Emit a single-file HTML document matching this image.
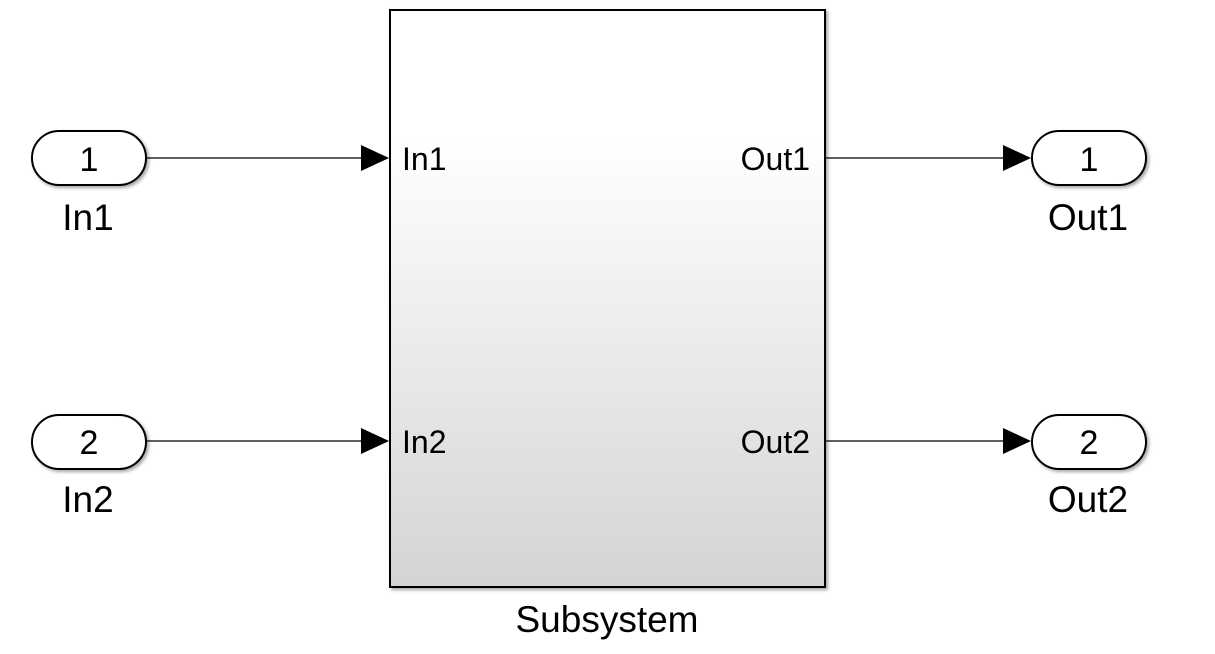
<!DOCTYPE html>
<html><head><meta charset="utf-8"><style>html,body{margin:0;padding:0;background:#fff;}svg{display:block}</style></head>
<body>
<svg width="1215" height="654" viewBox="0 0 1215 654" xmlns="http://www.w3.org/2000/svg" font-family="Liberation Sans, Arial, sans-serif">
<defs>
<linearGradient id="g" x1="0" y1="0" x2="0" y2="1">
<stop offset="0" stop-color="#ffffff"/>
<stop offset="0.22" stop-color="#ffffff"/>
<stop offset="1" stop-color="#d4d4d4"/>
</linearGradient>
<filter id="s" x="-5%" y="-5%" width="110%" height="110%"><feDropShadow dx="2" dy="2" stdDeviation="1.5" flood-color="#000" flood-opacity="0.35"/></filter>
</defs>
<rect x="390" y="10" width="435" height="577" fill="url(#g)" stroke="#000" stroke-width="2" filter="url(#s)"/>
<g fill="#fff" stroke="#000" stroke-width="2" filter="url(#s)">
<rect x="32" y="131" width="114" height="54" rx="27"/>
<rect x="32" y="415" width="114" height="54" rx="27"/>
<rect x="1032" y="131" width="114" height="54" rx="27"/>
<rect x="1032" y="415" width="114" height="54" rx="27"/>
</g>
<g stroke="#000" stroke-width="1.2">
<line x1="146" y1="158" x2="362" y2="158"/>
<line x1="146" y1="441" x2="362" y2="441"/>
<line x1="825" y1="158" x2="1004" y2="158"/>
<line x1="825" y1="441" x2="1004" y2="441"/>
</g>
<g fill="#000">
<polygon points="361,145 389,158 361,171"/>
<polygon points="361,428 389,441 361,454"/>
<polygon points="1003,145 1031,158 1003,171"/>
<polygon points="1003,428 1031,441 1003,454"/>
</g>
<g font-size="34" text-anchor="middle" fill="#000">
<text x="89" y="171">1</text>
<text x="89" y="454">2</text>
<text x="1089" y="171">1</text>
<text x="1089" y="454">2</text>
</g>
<g font-size="37" text-anchor="middle" fill="#000">
<text x="88" y="230">In1</text>
<text x="88" y="512">In2</text>
<text x="1088" y="230">Out1</text>
<text x="1088" y="512">Out2</text>
<text x="607" y="632">Subsystem</text>
</g>
<g font-size="32" fill="#000">
<text x="402" y="170">In1</text>
<text x="402" y="453">In2</text>
<text x="810" y="170" text-anchor="end">Out1</text>
<text x="810" y="453" text-anchor="end">Out2</text>
</g>
</svg>
</body></html>
